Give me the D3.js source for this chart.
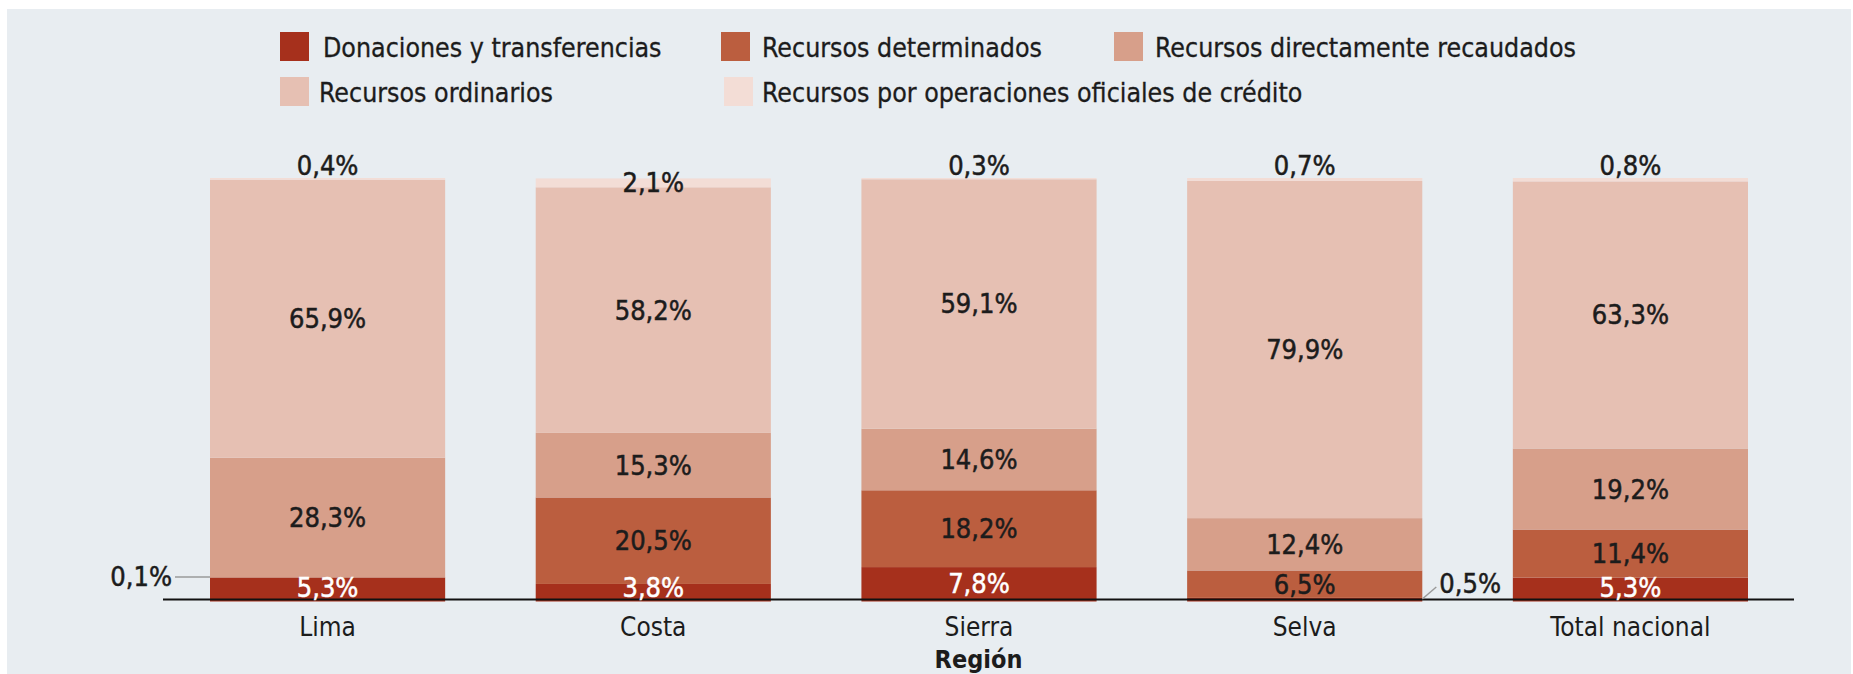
<!DOCTYPE html>
<html>
<head>
<meta charset="utf-8">
<script src="https://cdn.jsdelivr.net/npm/d3@7"></script>
<style>
  html, body { margin: 0; padding: 0; background: #ffffff; }
  svg { display: block; }
  text { font-family: 'DejaVu Sans Condensed', 'DejaVu Sans', sans-serif; font-stretch: condensed; fill: #1c1c1c; }
</style>
</head>
<body>
<svg id="chart" width="1853" height="674"></svg>
<script>
// ---- Data ----
const categories = ["Lima", "Costa", "Sierra", "Selva", "Total nacional"];
const seriesNames = [
  "Donaciones y transferencias",
  "Recursos determinados",
  "Recursos directamente recaudados",
  "Recursos ordinarios",
  "Recursos por operaciones oficiales de crédito"
];
const donaciones   = [5.3, 3.8, 7.8, 0.5, 5.3];
const determinados = [0.1, 20.5, 18.2, 6.5, 11.4];
const directamente = [28.3, 15.3, 14.6, 12.4, 19.2];
const ordinarios   = [65.9, 58.2, 59.1, 79.9, 63.3];
const operaciones  = [0.4, 2.1, 0.3, 0.7, 0.8];
const seriesValues = [donaciones, determinados, directamente, ordinarios, operaciones];
const colors = ["#a6301c", "#bb5e3f", "#d79f8a", "#e6c0b3", "#f3ddd6"];
const axisTitle = "Región";

const fmt = v => v.toFixed(1).replace(".", ",") + "%";

const svg = d3.select("#chart");
// background panel
svg.append("rect").attr("x", 7).attr("y", 9).attr("width", 1844).attr("height", 665).attr("fill", "#e8edf1");

const x = d3.scaleBand().domain(categories).range([210, 1748]).paddingInner(0.278).paddingOuter(0);
const y = d3.scaleLinear().domain([0, 100]).range([600, 178]);

// stacked data
const rows = categories.map((c, i) => {
  const o = { cat: c };
  seriesNames.forEach((s, k) => o[s] = seriesValues[k][i]);
  return o;
});
const stack = d3.stack().keys(seriesNames)(rows);

const g = svg.append("g");
stack.forEach((layer, k) => {
  g.selectAll(null).data(layer).enter().append("rect")
    .attr("x", d => x(d.data.cat))
    .attr("width", x.bandwidth())
    .attr("y", d => y(d[1]))
    .attr("height", d => y(d[0]) - y(d[1]) + (k === 0 ? 1.5 : 0))
    .attr("fill", colors[k]);
});

// baseline
svg.append("line").attr("x1", 163).attr("x2", 1794).attr("y1", 599.5).attr("y2", 599.5)
  .attr("stroke", "#111").attr("stroke-width", 2);

// labels
const labelSize = 27;
stack.forEach((layer, k) => {
  layer.forEach((d, i) => {
    const v = d.data[seriesNames[k]];
    const cx = x(d.data.cat) + x.bandwidth() / 2;
    let ty = (y(d[0]) + y(d[1])) / 2;
    let anchor = "middle";
    let tx = cx;
    let fill = k === 0 ? "#ffffff" : "#1c1c1c";
    if (k === 4 && v < 1) {
      ty = y(100) - 13;
    } else if (k === 1 && v < 0.3) {
      // leader line to the left
      const ly = y(d[0] + v / 2) - 0.5;
      svg.append("line").attr("x1", x(d.data.cat) - 35).attr("x2", x(d.data.cat)).attr("y1", ly).attr("y2", ly)
        .attr("stroke", "#9a9a9a").attr("stroke-width", 1.5);
      tx = x(d.data.cat) - 38; anchor = "end"; ty = ly; fill = "#1c1c1c";
    } else if (k === 0 && v < 1) {
      const bx = x(d.data.cat) + x.bandwidth();
      const by = y(d[0] + v / 2);
      svg.append("line").attr("x1", bx).attr("x2", bx + 14).attr("y1", by).attr("y2", by - 12)
        .attr("stroke", "#9a9a9a").attr("stroke-width", 1.5);
      tx = bx + 17; anchor = "start"; ty = by - 15; fill = "#1c1c1c";
    } else {
      ty = Math.min(ty, 587);
    }
    svg.append("text").attr("x", tx).attr("y", ty)
      .attr("text-anchor", anchor).attr("dominant-baseline", "central")
      .attr("font-size", labelSize).style("fill", fill)
      .attr("stroke", fill).attr("stroke-width", 0.5)
      .text(fmt(v));
  });
});

// x axis
const axis = svg.append("g").attr("transform", "translate(0,600)")
  .call(d3.axisBottom(x).tickSize(0).tickPadding(18));
axis.select(".domain").remove();
axis.selectAll("text").attr("font-size", 26).style("font-family", "'DejaVu Sans Condensed', 'DejaVu Sans', sans-serif").style("fill", "#1c1c1c");

svg.append("text").attr("x", (163 + 1794) / 2).attr("y", 659).attr("text-anchor", "middle")
  .attr("dominant-baseline", "central").attr("font-size", 25).attr("font-weight", "bold").text(axisTitle);

// legend
const legendPos = [
  { sx: 280, sy: 32, tx: 323 },
  { sx: 721, sy: 32, tx: 762 },
  { sx: 1114, sy: 32, tx: 1155 },
  { sx: 280, sy: 77, tx: 319 },
  { sx: 724, sy: 77, tx: 762 }
];
seriesNames.forEach((s, k) => {
  const p = legendPos[k];
  svg.append("rect").attr("x", p.sx).attr("y", p.sy).attr("width", 29).attr("height", 29).attr("fill", colors[k]);
  svg.append("text").attr("x", p.tx).attr("y", p.sy + 15).attr("dominant-baseline", "central")
    .attr("font-size", 26.5).attr("stroke", "#1c1c1c").attr("stroke-width", 0.3).text(s);
});
</script>
</body>
</html>
